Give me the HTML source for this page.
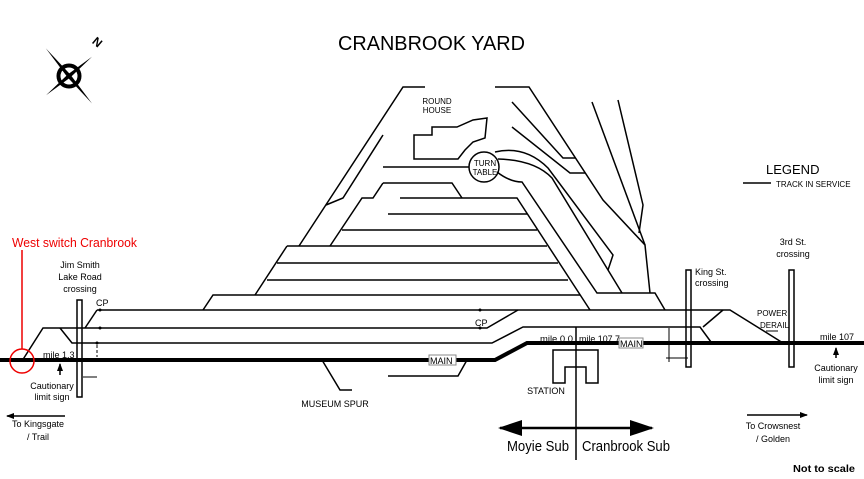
<!DOCTYPE html>
<html><head><meta charset="utf-8"><style>
html,body{margin:0;padding:0;background:#fff;}
svg{display:block;font-family:"Liberation Sans",Arial,sans-serif;}
</style></head><body>
<svg width="864" height="479" viewBox="0 0 864 479" xmlns="http://www.w3.org/2000/svg">
<defs>
<marker id="ah" markerWidth="8" markerHeight="8" refX="7" refY="4" orient="auto" markerUnits="userSpaceOnUse"><path d="M0,1 L8,4 L0,7 Z" fill="#000"/></marker>
<marker id="ahb" markerWidth="24" markerHeight="16" refX="22" refY="8" orient="auto" markerUnits="userSpaceOnUse"><path d="M0,0 L24,8 L0,16 Z" fill="#000"/></marker>
</defs>
<rect width="864" height="479" fill="#fff"/>
<text x="338" y="50" font-size="20" textLength="187" lengthAdjust="spacingAndGlyphs">CRANBROOK YARD</text>
<g transform="translate(69,76)">
<g transform="rotate(-40)">
<path d="M0,-36 L2,0 L0,36 L-2,0 Z" fill="#000"/>
<path d="M-30,0 L0,2 L30,0 L0,-2 Z" fill="#000"/>
</g>
<circle r="10.5" fill="none" stroke="#000" stroke-width="4"/>
<g transform="rotate(-40)">
<path d="M0,-10 L1,0 L0,10 L-1,0 Z M-10,0 L0,1 L10,0 L0,-1 Z" fill="#000"/>
</g>
<text x="24" y="-30" font-size="12" font-weight="bold" transform="rotate(40 28 -34)">N</text>
</g>
<g fill="none" stroke="#000" stroke-width="1.5">
<path d="M425,87 H403 L299,246"/>
<path d="M383,135 L343,198 L326,205"/>
<path d="M495,87 H529 L603,200 L645,245 L650,293"/>
<path d="M512,102 L563,158 H575"/>
<path d="M512,127 L570,173 H585"/>
<path d="M592,102 L645,245"/>
<path d="M618,100 L643,205 L639,233"/>
<path d="M414,135 H432 V127 H457 L473,120 L487,118 L485,138 L473,142 L465,150 L458,159 H414 Z"/>
<circle cx="484" cy="167" r="15"/>
<path d="M383,167 H469"/>
<path d="M383,183 H452 L462,198"/>
<path d="M383,183 L373,198 H362 L330,246"/>
<path d="M400,198 H517 L590,310"/>
<path d="M388,214 H527"/>
<path d="M342,230 H537"/>
<path d="M287,246 H547"/>
<path d="M287,246 L255,295"/>
<path d="M277,263 H558"/>
<path d="M267,280 H568"/>
<path d="M203,310 L213,295 H580"/>
<path d="M495,152 Q525,145 548,168 L613,255 L608,270"/>
<path d="M498,159 Q535,160 552,178 L622,293"/>
<path d="M497,172 Q510,182 522,182 L597,293 H655 L665,310"/>
<path d="M97,310 H730 L783,343"/>
<path d="M85,328 L97,310"/>
<path d="M22,361 L43,328 H487 L518,310"/>
<path d="M60,328 L72,343 H492 L523,327 H700 L711,342"/>
<path d="M703,327 L723,310"/>
<path d="M322,360 L340,390 H352"/>
<path d="M467,360 L458,376 H388"/>
<path d="M576,327 V460"/>
<path d="M553,383 V350 H598 V383 H586 V367 H565 V383 Z"/>
<rect x="77" y="300" width="5" height="97"/>
<rect x="686" y="270" width="5" height="97"/>
<rect x="789" y="270" width="5" height="97"/>
</g>
<path d="M0,360 H495 L527,343 H864" fill="none" stroke="#000" stroke-width="4"/>
<g stroke="#000" stroke-width="1" fill="none">
<path d="M97,345 V357" stroke-dasharray="3,2"/>
<path d="M83,377 H97"/>
<path d="M669,328 V362"/>
<path d="M666,358 H688"/>
<path d="M766,331 H778"/>
</g>
<g fill="#000"><circle cx="100" cy="310" r="1.5"/><circle cx="100" cy="328" r="1.5"/><circle cx="97" cy="343" r="1.5"/><circle cx="480" cy="310" r="1.5"/><circle cx="480" cy="328" r="1.5"/></g>
<rect x="429" y="355" width="27" height="10" fill="#fff" stroke="#888" stroke-width="1"/>
<text x="430" y="364" font-size="9">MAIN</text>
<rect x="619" y="338" width="24" height="10" fill="#fff" stroke="#888" stroke-width="1"/>
<text x="620" y="347" font-size="9">MAIN</text>
<g stroke="#000" stroke-width="1.5">
<line x1="65" y1="416" x2="7" y2="416" marker-end="url(#ah)"/>
<line x1="747" y1="415" x2="807" y2="415" marker-end="url(#ah)"/>
<line x1="60" y1="375" x2="60" y2="364" marker-end="url(#ah)"/>
<line x1="836" y1="358" x2="836" y2="348" marker-end="url(#ah)"/>
<line x1="576" y1="428" x2="500" y2="428" stroke-width="2.5" marker-end="url(#ahb)"/>
<line x1="576" y1="428" x2="652" y2="428" stroke-width="2.5" marker-end="url(#ahb)"/>
<line x1="743" y1="183" x2="771" y2="183" stroke-width="1.5"/>
</g>
<circle cx="22" cy="361" r="12" fill="none" stroke="#e00" stroke-width="1.5"/>
<line x1="22" y1="250" x2="22" y2="349" stroke="#e00" stroke-width="1.5"/>
<text x="12" y="247" font-size="13" fill="#e00" textLength="125" lengthAdjust="spacingAndGlyphs">West switch Cranbrook</text>
<g font-size="9" text-anchor="middle" fill="#000">
<text x="80" y="268">Jim Smith</text><text x="80" y="280">Lake Road</text><text x="80" y="292">crossing</text>
<text x="52" y="389">Cautionary</text><text x="52" y="400">limit sign</text>
<text x="38" y="427">To Kingsgate</text><text x="38" y="440">/ Trail</text>
<text x="836" y="371">Cautionary</text><text x="836" y="383">limit sign</text>
<text x="773" y="429">To Crowsnest</text><text x="773" y="442">/ Golden</text>
<text x="793" y="245">3rd St.</text><text x="793" y="257">crossing</text>
<text x="437" y="104" font-size="8">ROUND</text><text x="437" y="113" font-size="8">HOUSE</text>
<text x="485" y="166" font-size="8">TURN</text><text x="485" y="175" font-size="8">TABLE</text>
<text x="546" y="394">STATION</text>
<text x="335" y="407">MUSEUM SPUR</text>
</g>
<g font-size="9" fill="#000">
<text x="96" y="306">CP</text>
<text x="475" y="326">CP</text>
<text x="43" y="358">mile 1.3</text>
<text x="540" y="342" textLength="33" lengthAdjust="spacingAndGlyphs">mile 0.0</text>
<text x="579" y="342" textLength="41" lengthAdjust="spacingAndGlyphs">mile 107.7</text>
<text x="820" y="340">mile 107</text>
<text x="695" y="275">King St.</text><text x="695" y="286">crossing</text>
<text x="757" y="316" font-size="8">POWER</text><text x="760" y="328" font-size="8">DERAIL</text>
<text x="776" y="187" font-size="8">TRACK IN SERVICE</text>
<text x="766" y="174" font-size="13">LEGEND</text>
<text x="793" y="472" font-size="10" font-weight="bold" textLength="62" lengthAdjust="spacingAndGlyphs">Not to scale</text>
<text x="507" y="451" font-size="15" textLength="62" lengthAdjust="spacingAndGlyphs">Moyie Sub</text>
<text x="582" y="451" font-size="15" textLength="88" lengthAdjust="spacingAndGlyphs">Cranbrook Sub</text>
</g>
</svg>
</body></html>
